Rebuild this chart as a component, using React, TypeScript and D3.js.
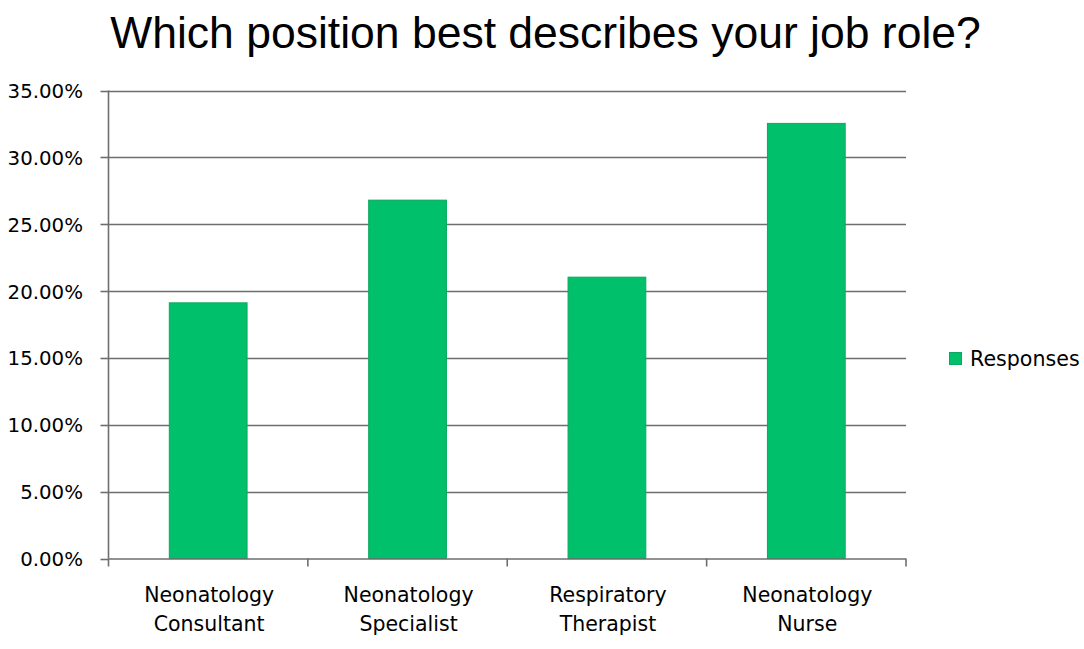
import { useEffect, useRef } from "react";
import * as d3 from "d3";

// Survey answers
const categories = [
  ["Neonatology", "Consultant"],
  ["Neonatology", "Specialist"],
  ["Respiratory", "Therapist"],
  ["Neonatology", "Nurse"],
];
const responses = [0.1912, 0.268, 0.2104, 0.3254];
const yTicks = [0, 0.05, 0.1, 0.15, 0.2, 0.25, 0.3, 0.35];
const seriesName = "Responses";
const title = "Which position best describes your job role?";

export default function App() {
  const ref = useRef<SVGSVGElement>(null);

  useEffect(() => {
    if (!ref.current) return;
    const svg = d3.select(ref.current);
    svg.selectAll("*").remove();

    const width = 1084;
    const height = 649;
    const left = 108.5;
    const right = 906;
    const top = 90.5;
    const bottom = 558.5;
    const grid = "#6e6e6e";
    const green = "#00c06b";
    const smallFont = "'DejaVu Sans', Verdana, sans-serif";

    const labels = categories.map((c) => c.join(" "));
    const x = d3.scaleBand<string>().domain(labels).range([left, right]).paddingInner(0.61).paddingOuter(0.305);
    const y = d3.scaleLinear().domain([0, 0.35]).range([bottom, top]);

    svg.append("rect").attr("width", width).attr("height", height).attr("fill", "#fff");

    // title
    svg.append("text")
      .attr("x", 545.5)
      .attr("y", 48)
      .attr("text-anchor", "middle")
      .attr("font-family", "'Liberation Sans', Arial, sans-serif")
      .attr("font-size", 44.5)
      .attr("fill", "#000")
      .text(title);

    // horizontal gridlines
    svg.append("g")
      .selectAll("line")
      .data(yTicks.slice(1))
      .enter().append("line")
      .attr("x1", left)
      .attr("x2", right)
      .attr("y1", (d) => Math.round(y(d)) + 0.5)
      .attr("y2", (d) => Math.round(y(d)) + 0.5)
      .attr("stroke", grid)
      .attr("stroke-width", 1.6);

    // y axis
    const yAxis = svg.append("g");
    yAxis.append("line")
      .attr("x1", left).attr("x2", left)
      .attr("y1", top).attr("y2", bottom)
      .attr("stroke", grid).attr("stroke-width", 1.6);
    yAxis.selectAll("line.tick")
      .data(yTicks)
      .enter().append("line")
      .attr("class", "tick")
      .attr("x1", left - 8).attr("x2", left)
      .attr("y1", (d) => Math.round(y(d)) + 0.5)
      .attr("y2", (d) => Math.round(y(d)) + 0.5)
      .attr("stroke", grid).attr("stroke-width", 1.6);
    yAxis.selectAll("text")
      .data(yTicks)
      .enter().append("text")
      .attr("x", 83)
      .attr("y", (d) => y(d) + 7.5)
      .attr("text-anchor", "end")
      .attr("font-family", smallFont)
      .attr("font-size", 19.8)
      .attr("fill", "#000")
      .text((d) => d3.format(".2%")(d));

    // bars
    svg.append("g")
      .selectAll("rect")
      .data(responses)
      .enter().append("rect")
      .attr("x", (_, i) => x(labels[i])!)
      .attr("width", x.bandwidth())
      .attr("y", (d) => y(d))
      .attr("height", (d) => bottom - y(d))
      .attr("fill", green)
      .attr("stroke", "#0aa85e")
      .attr("stroke-width", 1);

    // x axis
    const step = (right - left) / categories.length;
    const xAxis = svg.append("g");
    xAxis.append("line")
      .attr("x1", left).attr("x2", right)
      .attr("y1", bottom + 0.5).attr("y2", bottom + 0.5)
      .attr("stroke", grid).attr("stroke-width", 1.6);
    xAxis.selectAll("line.tick")
      .data(d3.range(categories.length + 1))
      .enter().append("line")
      .attr("class", "tick")
      .attr("x1", (i) => left + i * step)
      .attr("x2", (i) => left + i * step)
      .attr("y1", bottom).attr("y2", bottom + 8)
      .attr("stroke", grid).attr("stroke-width", 1.6);
    const cat = xAxis.selectAll("text")
      .data(categories)
      .enter().append("text")
      .attr("text-anchor", "middle")
      .attr("font-family", smallFont)
      .attr("font-size", 20.5)
      .attr("fill", "#000");
    cat.each(function (d, i) {
      const t = d3.select(this);
      const cx = x(labels[i])! + x.bandwidth() / 2 + 1;
      d.forEach((line, k) => {
        t.append("tspan").attr("x", cx).attr("y", 602 + k * 28.5).text(line);
      });
    });

    // legend
    svg.append("rect")
      .attr("x", 949.5).attr("y", 352.5)
      .attr("width", 12).attr("height", 12)
      .attr("fill", green)
      .attr("stroke", "#0aa85e");
    svg.append("text")
      .attr("x", 970)
      .attr("y", 366)
      .attr("font-family", smallFont)
      .attr("font-size", 20.6)
      .attr("fill", "#000")
      .text(seriesName);
  }, []);

  return (
    <svg
      ref={ref}
      width={1084}
      height={649}
      style={{ position: "absolute", left: 0, top: 0, display: "block" }}
    />
  );
}
